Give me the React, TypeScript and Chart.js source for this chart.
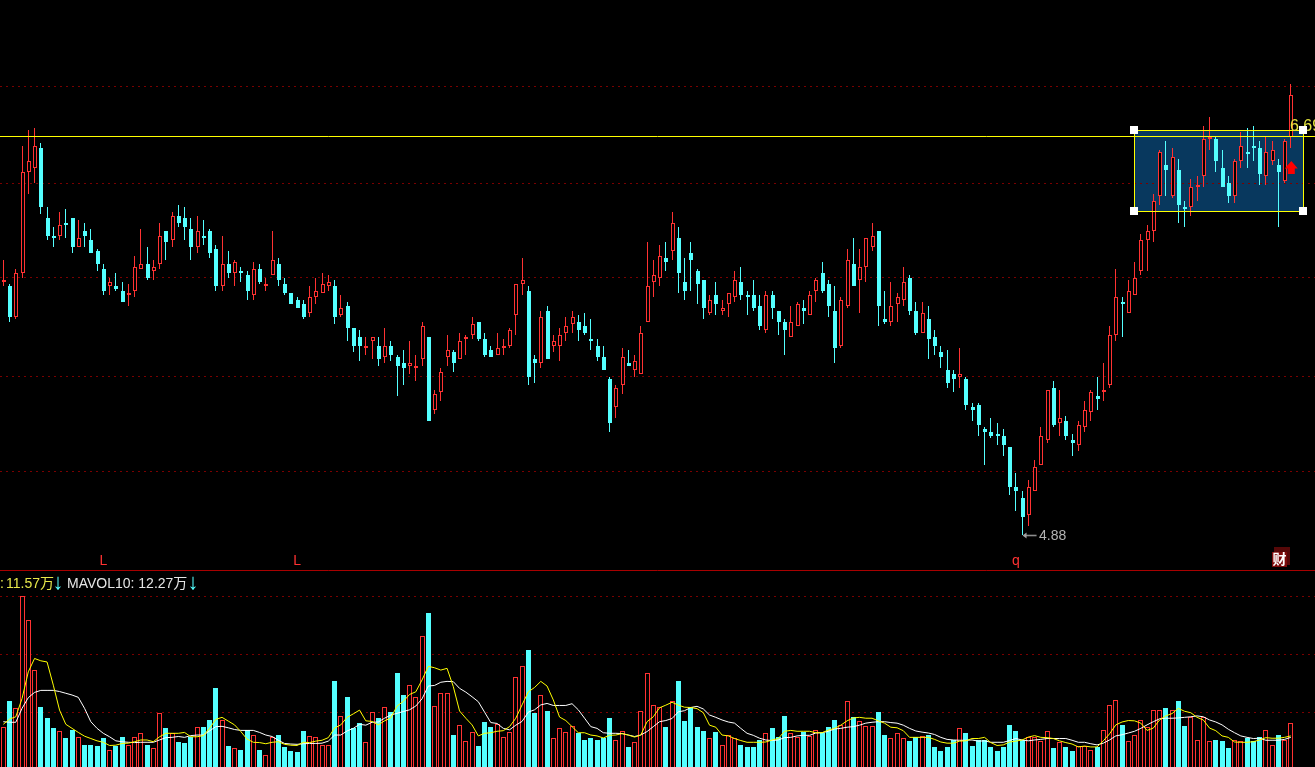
import React, { useEffect, useRef } from "react";
import { Chart, registerables } from "chart.js";

Chart.register(...registerables);

const opens = [
  6.03,6.01,5.87,6.07,6.53,6.55,6.64,6.32,6.24,6.24,
  6.30,6.32,6.19,6.26,6.22,6.17,6.09,6.01,6.01,5.99,
  5.97,5.99,6.09,6.11,6.08,6.11,6.26,6.22,6.33,6.32,
  6.27,6.19,6.24,6.26,6.18,6.01,6.11,6.07,6.08,6.06,
  5.97,6.09,6.01,6.06,6.11,6.02,5.98,5.95,5.93,5.89,
  5.96,5.98,6.01,6.01,5.88,5.92,5.82,5.78,5.73,5.76,
  5.74,5.69,5.74,5.69,5.66,5.65,5.64,5.68,5.78,5.45,
  5.53,5.69,5.71,5.68,5.77,5.79,5.85,5.77,5.72,5.70,
  5.73,5.74,5.88,6.02,5.99,5.68,5.66,5.90,5.74,5.74,
  5.80,5.84,5.85,5.83,5.77,5.74,5.69,5.59,5.46,5.56,
  5.66,5.63,5.61,5.85,6.03,6.05,6.14,6.17,6.23,6.03,
  6.16,6.08,6.04,5.89,5.97,5.90,5.93,5.96,6.03,5.97,
  5.97,5.92,5.81,5.97,5.90,5.85,5.78,5.83,5.91,5.88,
  5.99,6.07,6.02,5.90,5.74,5.92,6.11,6.04,6.10,6.19,
  6.26,5.86,5.85,5.93,5.95,6.05,5.90,5.80,5.86,5.78,
  5.71,5.63,5.61,5.60,5.59,5.46,5.47,5.36,5.35,5.34,
  5.33,5.28,5.10,5.05,4.97,5.08,5.20,5.31,5.55,5.39,
  5.40,5.31,5.29,5.37,5.44,5.51,5.53,5.56,5.79,5.94,
  5.89,5.97,6.08,6.22,6.26,6.42,6.56,6.42,6.54,6.37,
  6.37,6.46,6.51,6.68,6.68,6.55,6.48,6.42,6.58,6.62,
  6.65,6.64,6.51,6.58,6.56,6.49,6.69,
];
const closes = [
  6.04,5.87,6.07,6.53,6.58,6.65,6.37,6.24,6.23,6.29,
  6.29,6.19,6.23,6.24,6.16,6.11,5.99,6.03,6.00,5.94,
  5.98,6.10,6.11,6.05,6.10,6.24,6.21,6.33,6.30,6.28,
  6.19,6.26,6.23,6.16,6.01,6.11,6.07,6.12,6.07,5.99,
  6.09,6.03,6.02,6.13,6.04,5.98,5.93,5.91,5.87,5.96,
  5.99,6.02,6.03,5.87,5.91,5.82,5.74,5.74,5.74,5.78,
  5.68,5.74,5.70,5.65,5.64,5.66,5.65,5.83,5.40,5.52,
  5.62,5.72,5.66,5.76,5.78,5.84,5.77,5.70,5.69,5.73,
  5.74,5.81,6.02,6.04,5.60,5.66,5.87,5.68,5.76,5.79,
  5.83,5.87,5.81,5.80,5.76,5.69,5.63,5.39,5.55,5.69,
  5.65,5.67,5.80,6.01,6.06,6.15,6.12,6.30,6.07,5.99,
  6.13,6.02,5.91,5.95,5.93,5.91,5.98,6.04,5.97,5.96,
  5.91,5.83,5.97,5.91,5.85,5.81,5.85,5.93,5.90,5.97,
  6.04,5.99,5.92,5.73,5.95,6.13,6.01,6.10,6.23,6.24,
  5.92,5.85,5.92,5.96,6.03,5.90,5.80,5.89,5.77,5.74,
  5.69,5.57,5.59,5.61,5.47,5.45,5.38,5.35,5.33,5.33,
  5.29,5.10,5.08,4.96,5.10,5.19,5.33,5.54,5.38,5.41,
  5.33,5.30,5.38,5.45,5.53,5.50,5.54,5.79,5.96,5.93,
  5.99,6.05,6.22,6.26,6.40,6.62,6.54,6.60,6.38,6.36,
  6.46,6.47,6.68,6.69,6.58,6.46,6.42,6.58,6.65,6.61,
  6.64,6.52,6.62,6.63,6.53,6.67,6.88,
];
const highs = [
  6.13,6.02,6.09,6.65,6.72,6.73,6.66,6.37,6.28,6.35,
  6.36,6.32,6.31,6.30,6.27,6.18,6.11,6.05,6.07,6.03,
  6.02,6.15,6.27,6.19,6.13,6.30,6.26,6.35,6.38,6.37,
  6.32,6.33,6.31,6.27,6.20,6.24,6.17,6.13,6.10,6.08,
  6.12,6.11,6.05,6.26,6.14,6.05,5.98,5.96,5.95,6.01,
  6.05,6.07,6.06,6.04,5.97,5.94,5.82,5.81,5.78,5.78,
  5.78,5.82,5.76,5.70,5.72,5.76,5.70,5.85,5.78,5.54,
  5.64,5.79,5.72,5.80,5.79,5.87,5.85,5.80,5.74,5.80,
  5.77,5.82,6.02,6.14,6.01,5.70,5.90,5.92,5.79,5.82,
  5.87,5.90,5.88,5.89,5.86,5.77,5.74,5.60,5.56,5.73,
  5.72,5.70,5.83,6.21,6.13,6.20,6.21,6.35,6.28,6.14,
  6.21,6.09,6.04,5.97,6.03,5.95,5.98,6.08,6.10,5.99,
  6.04,5.97,5.99,5.99,5.90,5.86,5.92,5.94,5.95,5.99,
  6.05,6.12,6.04,6.01,5.96,6.18,6.23,6.18,6.23,6.30,
  6.26,5.99,6.03,5.98,6.10,6.06,5.94,5.94,5.92,5.81,
  5.74,5.72,5.63,5.73,5.60,5.48,5.48,5.37,5.41,5.39,
  5.36,5.28,5.16,5.08,5.13,5.22,5.37,5.54,5.58,5.54,
  5.42,5.34,5.40,5.49,5.54,5.60,5.66,5.83,6.09,5.96,
  6.04,6.12,6.25,6.29,6.43,6.63,6.67,6.64,6.59,6.40,
  6.50,6.51,6.74,6.78,6.69,6.63,6.51,6.59,6.71,6.73,
  6.74,6.67,6.69,6.67,6.59,6.68,6.93,
];
const lows = [
  6.01,5.85,5.86,6.05,6.43,6.48,6.34,6.22,6.19,6.22,
  6.23,6.16,6.19,6.19,6.16,6.08,5.97,5.97,5.99,5.94,
  5.92,5.96,6.09,6.04,6.04,6.09,6.13,6.19,6.28,6.22,
  6.13,6.16,6.20,6.14,5.99,5.99,6.05,6.01,6.03,5.95,
  5.95,6.02,5.99,6.06,6.01,5.97,5.93,5.91,5.86,5.87,
  5.93,5.98,5.99,5.84,5.87,5.76,5.71,5.67,5.70,5.68,
  5.65,5.66,5.67,5.51,5.56,5.61,5.58,5.65,5.40,5.43,
  5.49,5.65,5.62,5.68,5.70,5.77,5.76,5.69,5.69,5.70,
  5.70,5.73,5.79,5.97,5.56,5.57,5.64,5.68,5.71,5.67,
  5.76,5.80,5.76,5.79,5.72,5.67,5.63,5.35,5.41,5.52,
  5.65,5.60,5.61,5.85,5.96,6.01,6.08,6.13,5.98,5.95,
  5.99,5.93,5.86,5.88,5.88,5.88,5.87,5.94,5.95,5.88,
  5.90,5.81,5.80,5.86,5.79,5.70,5.78,5.83,5.84,5.88,
  5.94,5.98,5.87,5.66,5.73,5.91,6.01,5.89,6.03,6.17,
  5.83,5.84,5.83,5.85,5.92,5.88,5.79,5.80,5.68,5.70,
  5.64,5.55,5.53,5.55,5.45,5.40,5.33,5.20,5.32,5.29,
  5.24,5.06,4.99,4.88,4.92,5.08,5.20,5.30,5.37,5.33,
  5.31,5.24,5.26,5.35,5.40,5.45,5.49,5.55,5.76,5.78,
  5.89,5.97,6.06,6.08,6.21,6.38,6.42,6.41,6.30,6.28,
  6.33,6.40,6.46,6.63,6.53,6.46,6.39,6.39,6.55,6.55,
  6.58,6.47,6.47,6.56,6.28,6.48,6.64,
];
// volume, in 万
const volumes = [
  15.1,24.1,21.7,60.3,52.0,34.8,22.0,18.3,14.8,13.8,
  11.4,14.1,11.7,8.9,8.9,8.6,11.4,7.2,8.6,11.7,
  8.9,11.7,13.1,8.9,7.9,20.0,14.8,13.1,10.0,9.6,
  11.7,15.2,15.2,17.6,28.6,17.6,8.6,7.9,7.2,14.1,
  12.4,7.2,5.5,11.7,12.4,8.3,6.9,6.5,13.8,12.0,
  11.7,8.9,8.9,31.0,19.0,25.6,14.8,16.6,10.0,20.3,
  18.3,22.1,20.3,33.8,26.2,29.6,25.6,46.6,54.5,22.4,
  26.9,26.9,12.4,15.9,10.4,13.5,8.6,16.9,15.2,16.2,
  11.7,13.5,32.4,36.2,41.7,20.0,26.2,20.7,11.4,14.8,
  13.5,15.5,13.1,10.7,11.4,10.7,11.4,18.3,10.7,13.8,
  8.3,10.0,20.7,33.8,22.8,22.1,15.2,24.1,31.0,17.3,
  22.1,15.2,13.8,11.4,13.5,9.0,12.4,11.4,9.0,8.3,
  8.3,10.7,13.1,14.8,11.7,19.0,13.1,11.7,13.5,12.1,
  14.1,13.1,15.2,17.6,15.9,24.1,18.6,17.3,15.5,15.5,
  20.4,12.4,11.4,13.1,11.4,10.3,11.7,12.1,12.4,8.3,
  6.9,8.3,10.7,14.8,13.1,8.6,10.7,10.7,8.3,6.9,
  8.3,15.9,13.8,10.7,11.7,11.7,10.3,13.8,7.9,10.0,
  8.3,6.9,8.6,8.6,7.2,8.3,14.1,22.8,24.5,15.9,
  10.3,12.4,17.6,15.2,21.0,21.0,21.7,21.0,24.1,15.5,
  18.6,10.7,18.6,10.3,10.7,10.3,7.9,10.7,10.3,11.4,
  10.3,11.7,14.1,9.0,12.4,10.7,16.6,
];
const mavol5 = [
  16.1,17.9,18.7,25.0,34.2,38.8,38.0,37.6,29.6,21.0,
  16.1,14.7,13.3,12.0,11.2,10.4,9.9,8.8,8.9,9.5,
  9.6,10.1,10.7,10.7,10.1,11.8,13.0,13.0,13.0,13.3,
  11.8,11.8,12.2,14.7,17.8,18.5,17.2,15.9,13.6,11.0,
  9.9,9.8,9.4,9.9,10.1,9.2,8.9,8.8,9.9,9.8,
  10.3,10.6,11.5,14.8,15.9,18.5,19.7,21.0,17.3,17.1,
  15.9,17.3,18.3,22.4,24.0,26.4,27.3,31.4,36.1,35.6,
  34.8,35.4,29.1,20.7,18.2,15.9,12.1,13.0,13.2,13.7,
  13.9,15.3,18.2,22.8,27.3,28.8,30.9,29.3,24.5,18.6,
  17.4,15.3,13.2,13.2,12.4,12.1,11.4,12.3,12.4,12.9,
  12.4,11.7,12.4,17.0,18.7,21.8,22.7,23.7,22.7,22.0,
  21.9,21.5,20.1,15.8,15.1,12.4,12.1,11.2,10.5,9.9,
  9.9,9.9,10.0,10.7,11.2,13.7,14.0,13.7,13.7,13.7,
  13.2,13.2,14.1,14.7,15.8,17.3,18.3,18.5,18.2,18.2,
  17.3,16.5,15.1,14.9,13.9,11.6,11.6,11.6,11.6,10.9,
  10.0,9.6,9.6,10.3,10.4,11.2,11.2,11.6,9.8,8.8,
  9.0,10.0,10.3,10.7,11.7,12.2,11.6,11.5,11.2,10.4,
  9.8,9.3,8.3,8.6,8.3,8.3,10.4,12.8,15.9,16.9,
  17.4,17.3,16.5,14.0,14.8,17.6,19.0,19.8,21.6,20.6,
  20.1,18.5,17.6,14.8,13.9,12.1,11.6,10.0,9.9,9.9,
  10.1,10.7,11.5,11.3,11.3,11.6,12.1,
];
const mavol10 = [
  17.0,16.8,16.8,21.6,25.3,27.1,27.8,27.8,27.8,27.4,
  26.8,26.2,25.4,21.6,17.0,14.7,13.0,11.8,10.4,10.1,
  9.9,9.8,9.9,9.9,9.9,10.7,11.5,11.6,11.9,11.6,
  12.2,12.4,12.4,13.8,15.3,15.4,14.9,14.3,14.0,14.0,
  14.0,13.3,12.4,11.9,10.6,9.5,9.3,9.2,9.4,9.5,
  9.5,9.6,10.3,12.4,12.4,13.8,14.7,16.1,15.8,16.8,
  16.9,18.2,19.3,19.9,20.5,21.1,22.4,24.9,29.3,29.5,
  30.6,30.9,30.8,28.5,27.2,25.6,23.9,20.3,16.7,16.4,
  14.7,14.2,15.8,17.1,20.3,21.1,22.8,23.3,22.6,22.6,
  22.6,23.2,21.1,18.2,15.3,14.7,13.2,13.0,13.0,12.9,
  12.4,11.9,12.4,13.6,15.3,17.0,17.4,18.1,20.4,20.8,
  21.9,22.3,21.4,19.3,18.5,17.6,16.9,16.5,14.7,13.0,
  12.3,11.3,10.7,10.5,10.7,11.5,11.6,12.1,12.3,12.3,
  13.1,13.2,13.7,14.5,14.7,15.1,15.3,15.8,16.5,16.8,
  17.0,17.0,16.7,16.5,15.8,14.7,13.8,13.4,13.1,12.6,
  11.6,10.9,10.7,10.6,10.6,10.7,10.3,10.4,9.9,9.9,
  9.9,10.5,11.2,10.7,10.4,10.7,10.9,11.2,11.2,11.2,
  11.2,10.6,9.9,9.9,9.4,9.0,9.6,10.7,12.1,12.5,
  13.1,13.7,14.7,15.9,17.0,18.0,18.2,18.2,18.3,18.5,
  18.7,19.0,18.7,17.6,16.9,15.9,14.4,13.2,12.1,11.6,
  11.2,11.3,10.6,10.6,10.6,10.9,11.6,
];
const priceGrid = [6.92, 6.48, 6.05, 5.6, 5.17];
const volumeGrid = [60, 40, 20];
const markerLabels = ["L", "L", "q"];
const markerBars = [16, 47, 162];
const lowValue = 4.88;
const lowBar = 163;
const levelPrice = 6.69;
const box = { fromBar: 181, toBar: 208, top: 6.717, bottom: 6.35 };
const headerParts = [
  { text: ":", x: 0, color: "#e8e84a" },
  { text: "11.57万", x: 6, color: "#e8e84a" },
  { text: "MAVOL10: 12.27万", x: 67, color: "#e6e6e6" },
];
const headerArrows = [58, 193];

const RED = "#ff3232";
const CYAN = "#54ffff";
const FONT = '"Liberation Sans", "Noto Sans CJK SC", sans-serif';
const W = 1315;
const H = 767;

const isUp = (i: number) => closes[i] >= opens[i];

const overlay = {
  id: "overlay",
  afterDatasetsUpdate(chart: any) {
    chart.getSortedVisibleDatasetMetas().forEach((meta: any) => {
      if (meta.type !== "bar") return;
      meta.data.forEach((el: any) => {
        const odd = Math.round(el.width) % 2 === 1;
        el.x = odd ? Math.floor(el.x) + 0.5 : Math.floor(el.x) + 1;
        el.y = Math.round(el.y);
        el.base = Math.round(el.base);
      });
    });
  },
  beforeDraw(chart: any) {
    const { ctx, scales } = chart;
    const p = scales.price;
    const x = scales.x;
    ctx.save();
    ctx.fillStyle = "#000";
    ctx.fillRect(0, 0, W, H);
    const l = x.getPixelForValue(box.fromBar);
    const r = x.getPixelForValue(box.toBar);
    const t = p.getPixelForValue(box.top);
    const b = p.getPixelForValue(box.bottom);
    ctx.fillStyle = "#08385e";
    ctx.fillRect(l, t, r - l, b - t);
    ctx.restore();
  },
  afterDraw(chart: any) {
    const { ctx, scales } = chart;
    const p = scales.price;
    const x = scales.x;
    ctx.save();
    // separator between the panes
    ctx.strokeStyle = "#a80000";
    ctx.lineWidth = 1;
    ctx.beginPath();
    ctx.moveTo(0, 570.5);
    ctx.lineTo(W, 570.5);
    ctx.stroke();

    // horizontal level line
    const levelY = Math.floor(p.getPixelForValue(levelPrice)) + 0.5;
    ctx.strokeStyle = "#ffff00";
    ctx.beginPath();
    ctx.moveTo(0, levelY);
    ctx.lineTo(W, levelY);
    ctx.stroke();

    // drawn box with handles
    const l = Math.floor(x.getPixelForValue(box.fromBar)) + 0.5;
    const r = Math.floor(x.getPixelForValue(box.toBar)) + 0.5;
    const t = Math.floor(p.getPixelForValue(box.top)) + 0.5;
    const b = Math.floor(p.getPixelForValue(box.bottom)) + 0.5;
    ctx.strokeRect(l, t, r - l, b - t);

    // level label
    ctx.font = `16px ${FONT}`;
    ctx.textBaseline = "middle";
    ctx.textAlign = "left";
    ctx.fillStyle = "#e2e23c";
    ctx.fillText(levelPrice.toFixed(2), 1290, 127);

    ctx.fillStyle = "#fff";
    [[l, t], [r, t], [l, b], [r, b]].forEach(([hx, hy]) => {
      ctx.fillRect(Math.floor(hx) - 4, Math.floor(hy) - 4, 8, 8);
    });

    // red arrow
    const ax = x.getPixelForValue(closes.length - 1) + 0.5;
    ctx.fillStyle = "#ff0000";
    ctx.beginPath();
    ctx.moveTo(ax, 161);
    ctx.lineTo(ax + 6.5, 168.5);
    ctx.lineTo(ax + 3.5, 168.5);
    ctx.lineTo(ax + 3.5, 174);
    ctx.lineTo(ax - 3.5, 174);
    ctx.lineTo(ax - 3.5, 168.5);
    ctx.lineTo(ax - 6.5, 168.5);
    ctx.closePath();
    ctx.fill();

    // low marker
    const ly = Math.floor(p.getPixelForValue(lowValue)) + 0.5;
    const lx = x.getPixelForValue(lowBar) + 0.5;
    ctx.strokeStyle = "#8c8c8c";
    ctx.lineWidth = 1.6;
    ctx.beginPath();
    ctx.moveTo(lx + 2, ly);
    ctx.lineTo(lx + 14, ly);
    ctx.stroke();
    ctx.fillStyle = "#a0a0a0";
    ctx.beginPath();
    ctx.moveTo(lx, ly);
    ctx.lineTo(lx + 4, ly - 3);
    ctx.lineTo(lx + 4, ly + 3);
    ctx.closePath();
    ctx.fill();
    ctx.font = `14px ${FONT}`;
    ctx.fillStyle = "#b4b4b4";
    ctx.fillText(lowValue.toFixed(2), 1039, ly + 1);

    // signal letters
    ctx.font = `14px ${FONT}`;
    ctx.fillStyle = RED;
    ctx.textAlign = "center";
    markerLabels.forEach((m, i) => {
      ctx.fillText(m, x.getPixelForValue(markerBars[i]), 561);
    });

    // 财 badge
    ctx.fillStyle = "#560808";
    ctx.fillRect(1274, 547, 16, 18);
    ctx.fillStyle = "#7c0a0a";
    ctx.fillRect(1272, 552, 15, 15);
    ctx.fillStyle = "#fff";
    ctx.font = `bold 14px "Noto Sans CJK SC", sans-serif`;
    ctx.fillText("财", 1279.5, 559);

    // volume header
    ctx.font = `14px ${FONT}`;
    ctx.textAlign = "left";
    headerParts.forEach((h) => {
      ctx.fillStyle = h.color;
      ctx.fillText(h.text, h.x, 584);
    });
    ctx.font = `22px ${FONT}`;
    ctx.textAlign = "center";
    ctx.fillStyle = CYAN;
    headerArrows.forEach((ha) => ctx.fillText("↓", ha, 583));
    ctx.restore();
  },
};

export default function App() {
  const ref = useRef<HTMLCanvasElement | null>(null);

  useEffect(() => {
    document.body.style.margin = "0";
    document.body.style.background = "#000";
    const idx = opens.map((_, i) => i);
    const candleColors = idx.map((i) => (isUp(i) ? RED : CYAN));
    const fills = idx.map((i) => (isUp(i) ? "#000" : CYAN));
    const gridStyle = { color: "#7a0000", lineWidth: 1, drawTicks: false };
    const chart = new Chart(ref.current as HTMLCanvasElement, {
      type: "bar",
      data: {
        datasets: [
          {
            type: "line",
            label: "MAVOL5",
            yAxisID: "volume",
            data: mavol5.map((y, i) => ({ x: i, y })),
            borderColor: "#ffff00",
            borderWidth: 1,
            pointRadius: 0,
            tension: 0,
            order: 0,
          },
          {
            type: "line",
            label: "MAVOL10",
            yAxisID: "volume",
            data: mavol10.map((y, i) => ({ x: i, y })),
            borderColor: "#ffffff",
            borderWidth: 1,
            pointRadius: 0,
            tension: 0,
            order: 1,
          },
          {
            label: "VOL",
            yAxisID: "volume",
            data: volumes.map((y, i) => ({ x: i, y })),
            backgroundColor: fills,
            borderColor: candleColors,
            borderWidth: 1,
            borderSkipped: "start",
            barThickness: 5,
            maxBarThickness: 5,
            grouped: false,
            inflateAmount: 0,
            order: 2,
          },
          {
            label: "Body",
            yAxisID: "price",
            data: idx.map((i) => ({ x: i, y: [opens[i], closes[i]] })),
            backgroundColor: fills,
            borderColor: candleColors,
            borderWidth: 1,
            borderSkipped: false,
            barThickness: 4,
            maxBarThickness: 4,
            grouped: false,
            inflateAmount: 0,
            order: 3,
          },
          {
            label: "Wick",
            yAxisID: "price",
            data: idx.map((i) => ({ x: i, y: [lows[i], highs[i]] })),
            backgroundColor: candleColors,
            borderWidth: 0,
            barThickness: 1,
            maxBarThickness: 1,
            grouped: false,
            inflateAmount: 0,
            order: 4,
          },
        ],
      } as any,
      options: {
        animation: false,
        responsive: false,
        devicePixelRatio: 1,
        layout: { padding: 0 },
        plugins: { legend: { display: false }, tooltip: { enabled: false } },
        scales: {
          x: {
            type: "linear",
            min: -0.528,
            max: 209.872,
            offset: false,
            display: false,
          },
          price: {
            type: "linear",
            position: "left",
            min: 3.8257,
            max: 7.312,
            afterBuildTicks: (s: any) => {
              s.ticks = priceGrid.map((value) => ({ value }));
            },
            ticks: { display: false },
            grid: gridStyle,
            border: { display: false, dash: [2, 4] },
          },
          volume: {
            type: "linear",
            position: "left",
            min: 1.379,
            max: 265.86,
            afterBuildTicks: (s: any) => {
              s.ticks = volumeGrid.map((value) => ({ value }));
            },
            ticks: { display: false },
            grid: gridStyle,
            border: { display: false, dash: [2, 4] },
          },
        },
      } as any,
      plugins: [overlay],
    });
    return () => chart.destroy();
  }, []);

  return (
    <canvas
      ref={ref}
      width={W}
      height={H}
      style={{ display: "block", position: "absolute", left: 0, top: 0, width: W, height: H }}
    />
  );
}
